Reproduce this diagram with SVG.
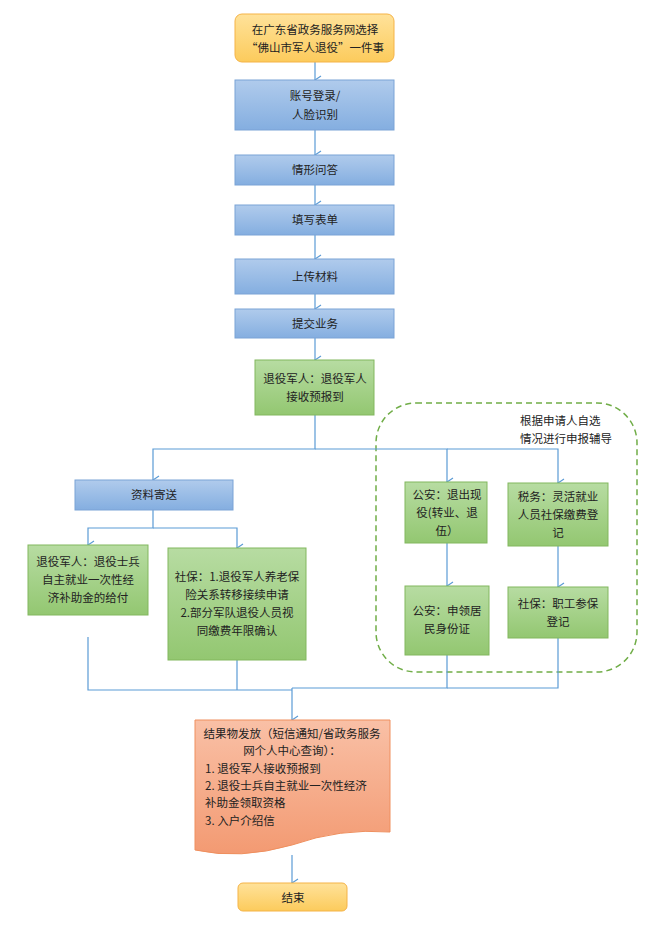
<svg xmlns="http://www.w3.org/2000/svg" width="667" height="944" viewBox="0 0 667 944">
<defs>
<linearGradient id="gb" x1="0" y1="0" x2="0" y2="1"><stop offset="0" stop-color="#b0cbec"/><stop offset="1" stop-color="#84aee0"/></linearGradient>
<linearGradient id="gg" x1="0" y1="0" x2="0" y2="1"><stop offset="0" stop-color="#b7dca2"/><stop offset="1" stop-color="#93c771"/></linearGradient>
<linearGradient id="go" x1="0" y1="0" x2="0" y2="1"><stop offset="0" stop-color="#ffe29a"/><stop offset="1" stop-color="#fccb5c"/></linearGradient>
<linearGradient id="gr" x1="0" y1="0" x2="0" y2="1"><stop offset="0" stop-color="#f9c0a6"/><stop offset="1" stop-color="#f39a72"/></linearGradient>
<marker id="a" markerWidth="10" markerHeight="10" refX="5" refY="9" orient="auto" markerUnits="userSpaceOnUse" viewBox="0 0 10 10"><path d="M1,3 L5,9 L9,3" fill="none" stroke="#5b9bd5" stroke-width="1.2"/></marker>
</defs>
<style>
text{font-family:"Noto Sans CJK SC","Liberation Sans",sans-serif;font-size:11.5px;fill:#222;text-anchor:middle}
.b{fill:url(#gb);stroke:#7aa3d6}
.g{fill:url(#gg);stroke:#82b75e}
.c path{fill:none;stroke:#5b9bd5;stroke-width:1.2}
</style>
<rect width="667" height="944" fill="#fff"/>
<rect x="376" y="403" width="261" height="269" rx="40" fill="none" stroke="#70ad47" stroke-width="1.5" stroke-dasharray="6,4"/>
<text x="566" y="425" style="text-anchor:start" transform="translate(-46,0)">根据申请人自选</text>
<text x="520" y="443" style="text-anchor:start">情况进行申报辅导</text>
<g class="c">
<path d="M315,62 V80" marker-end="url(#a)"/>
<path d="M315,130 V155" marker-end="url(#a)"/>
<path d="M315,185 V205" marker-end="url(#a)"/>
<path d="M315,235 V259" marker-end="url(#a)"/>
<path d="M315,294 V309" marker-end="url(#a)"/>
<path d="M315,338 V360" marker-end="url(#a)"/>
<path d="M315,415 V449 H153 V480" marker-end="url(#a)"/>
<path d="M315,449 H447 V482" marker-end="url(#a)"/>
<path d="M447,449 H558 V483" marker-end="url(#a)"/>
<path d="M153,510 V528 H88 V545" marker-end="url(#a)"/>
<path d="M153,528 H237 V548" marker-end="url(#a)"/>
<path d="M447,543 V586" marker-end="url(#a)"/>
<path d="M558,546 V587" marker-end="url(#a)"/>
<path d="M88,637 V690 H292"/>
<path d="M237,660 V690"/>
<path d="M447,655 V688 H292"/>
<path d="M558,638 V688 H447"/>
<path d="M292,688 V720" marker-end="url(#a)"/>
<path d="M292,855 V883" marker-end="url(#a)"/>
</g>
<g id="start"><rect x="235" y="14" width="159" height="48" rx="7" fill="url(#go)" stroke="#f5b347"/><text x="315" y="34">在广东省政务服务网选择</text><text x="315" y="52">“佛山市军人退役”一件事</text></g>
<g id="login"><rect class="b" x="235" y="80" width="159" height="50"/><text x="315" y="100">账号登录/</text><text x="315" y="119">人脸识别</text></g>
<g id="qa"><rect class="b" x="235" y="155" width="159" height="30"/><text x="315" y="174">情形问答</text></g>
<g id="form"><rect class="b" x="235" y="205" width="159" height="30"/><text x="315" y="224">填写表单</text></g>
<g id="upload"><rect class="b" x="235" y="259" width="159" height="35"/><text x="315" y="281">上传材料</text></g>
<g id="submit"><rect class="b" x="235" y="309" width="159" height="29"/><text x="315" y="328">提交业务</text></g>
<g id="recv"><rect class="g" x="255" y="360" width="119" height="55"/><text x="315" y="383">退役军人：退役军人</text><text x="315" y="401">接收预报到</text></g>
<g id="mail"><rect class="b" x="75" y="480" width="158" height="30"/><text x="154" y="499">资料寄送</text></g>
<g id="pay"><rect class="g" x="28" y="545" width="120" height="70"/><text x="88" y="566">退役军人：退役士兵</text><text x="88" y="584">自主就业一次性经</text><text x="88" y="602">济补助金的给付</text></g>
<g id="sb1"><rect class="g" x="168" y="548" width="138" height="112"/><text x="237" y="581">社保：1.退役军人养老保</text><text x="237" y="599">险关系转移接续申请</text><text x="237" y="617">2.部分军队退役人员视</text><text x="237" y="635">同缴费年限确认</text></g>
<g id="ga1"><rect class="g" x="405" y="482" width="82" height="61"/><text x="447" y="499">公安：退出现</text><text x="447" y="517">役(转业、退</text><text x="447" y="535">伍）</text></g>
<g id="tax"><rect class="g" x="508" y="483" width="100" height="63"/><text x="558" y="501">税务：灵活就业</text><text x="558" y="519">人员社保缴费登</text><text x="558" y="537">记</text></g>
<g id="ga2"><rect class="g" x="405" y="586" width="84" height="69"/><text x="447" y="615">公安：申领居</text><text x="447" y="633">民身份证</text></g>
<g id="sb2"><rect class="g" x="508" y="587" width="100" height="51"/><text x="558" y="608">社保：职工参保</text><text x="558" y="626">登记</text></g>
<g id="result"><path d="M195,720 H390 V832 Q340,828 292,845 Q240,860 195,850 Z" fill="url(#gr)" stroke="#ef8f5e"/>
<text x="292" y="738">结果物发放（短信通知/省政务服务</text><text x="292" y="755">网个人中心查询）：</text>
<g style="text-anchor:start"><text x="205" y="773" style="text-anchor:start">1.   退役军人接收预报到</text><text x="205" y="790" style="text-anchor:start">2.   退役士兵自主就业一次性经济</text><text x="205" y="807" style="text-anchor:start">补助金领取资格</text><text x="205" y="825" style="text-anchor:start">3.   入户介绍信</text></g></g>
<g id="end"><rect x="238" y="883" width="109" height="28" rx="5" fill="url(#go)" stroke="#f5b347"/><text x="293" y="902">结束</text></g>
</svg>
